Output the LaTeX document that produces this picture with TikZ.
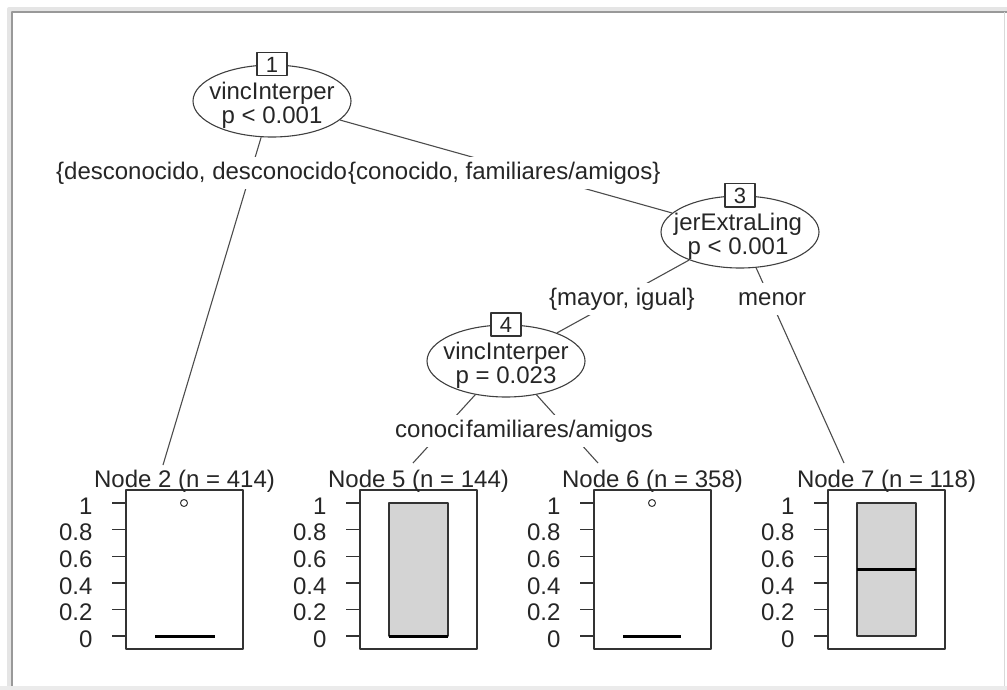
\documentclass[tikz,border=0pt]{standalone}
\usepackage{fontspec}
\setmainfont{Liberation Sans}
\usetikzlibrary{shapes.geometric}

\begin{document}
\begin{tikzpicture}
        [x=1pt, y=-1pt, line join=round,
         every node/.style={text=black!85, font=\fontsize{24}{24}\selectfont},
         split/.style={ellipse, draw=black!75, line width=1.1pt, minimum width=158pt, minimum height=72pt, inner sep=0pt},
         idbox/.style={draw=black!80, line width=1.1pt, fill=white, minimum width=30pt, minimum height=23pt, inner sep=0pt, font=\fontsize{22}{22}\selectfont},
         cut/.style={fill=white, inner xsep=1pt, inner ysep=5pt, text height=17pt, text depth=5pt, anchor=base west},
         branch/.style={draw=black!70, line width=1.1pt},
         panel/.style={draw=black!80, line width=1.4pt},
         bar/.style={draw=black!80, line width=1.2pt, fill=black!17},
         med/.style={black, line width=3pt}]

        \useasboundingbox (0,0) rectangle (1007,690);

        % window frame
        \draw[black!10, line width=4pt] (9,690) -- (9,9) -- (1007,9);
        \draw[black!40, line width=1.5pt] (12,690) -- (12,12) -- (1007,12);
        \draw[black!15, line width=1pt] (1004,12) -- (1004,686);
        \fill[black!8] (0,686) rectangle (1007,690);

        % inner nodes
        \node [split] (n1) at (272,101) {};
        \node [split] (n3) at (740,232) {};
        \node [split] (n4) at (506,361) {};

        \node [align=center] (n1t) at (272,105.5) {vincInterper\\p < 0.001};
        \node [align=center] (n3t) at (738,236.5) {jerExtraLing\\p < 0.001};
        \node [align=center] (n4t) at (506,365.5) {vincInterper\\p = 0.023};

        \node [idbox] (id1) at (n1.north) {1};
        \node [idbox] (id3) at (n3.north) {3};
        \node [idbox] (id4) at (n4.north) {4};

        % tops of the terminal panels
        \coordinate (t2) at (163,465);
        \coordinate (t5) at (413,463);
        \coordinate (t6) at (598,463);
        \coordinate (t7) at (844,463);

        \draw[branch] (n1) -- (t2);
        \draw[branch] (n1) -- (n3);
        \draw[branch] (n3) -- (n4);
        \draw[branch] (n3) -- (t7);
        \draw[branch] (n4) -- (t5);
        \draw[branch] (n4) -- (t6);

        % split labels
        \node [cut] (l12) at (55,179)  {\{desconocido, desconocido};
        \node [cut] (l13) at (347,179) {\{conocido, familiares/amigos\}};
        \node [cut] (l34) at (548,305) {\{mayor, igual\}};
        \node [cut] (l37) at (737,305) {menor};
        \node [cut] (l45) at (394,437) {conoci};
        \node [cut] (l46) at (465,437) {familiares/amigos};

        % terminal panels
        \foreach \k/\x/\n in {2/126/414, 5/360/144, 6/594/358, 7/828/118} {
          \draw[panel] (\x,490) rectangle ++(117,159);
          \node [anchor=base] (h\k) at (\x+58.5,487) {Node \k{} (n = \n)};
          \foreach \v [count=\i] in {0,0.2,0.4,0.6,0.8,1} {
            \draw[panel] (\x-14,636-133*\v) -- (\x,636-133*\v);
            \node [anchor=east] (a\k\i) at (\x-30,639-133*\v) {\v};
          }
        }

        \draw[med] (155,636) -- (215,636);
        \draw[black!80, line width=1pt] (184,503) circle (3.5);

        \draw[bar] (389,503) rectangle (448,636);
        \draw[med] (389,636) -- (448,636);

        \draw[med] (623,636) -- (681,636);
        \draw[black!80, line width=1pt] (652,503) circle (3.5);

        \draw[bar] (857,503) rectangle (916,636);
        \draw[med] (857,569.5) -- (916,569.5);
\end{tikzpicture}
\end{document}
